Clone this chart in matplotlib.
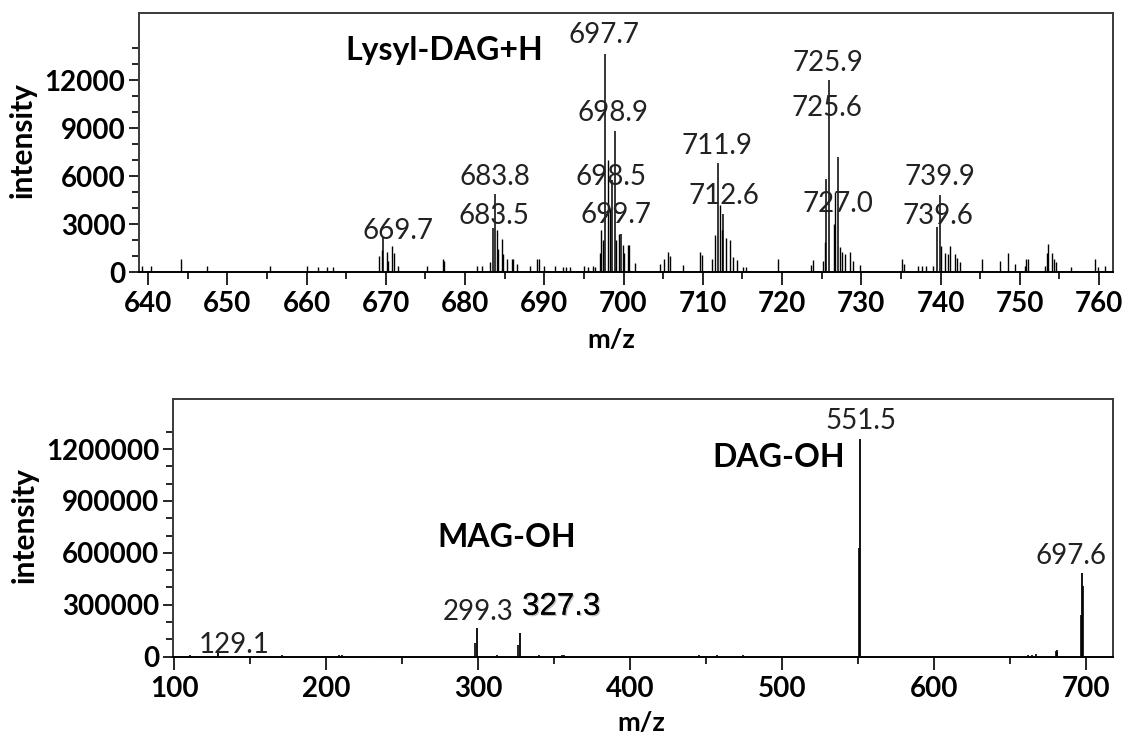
import matplotlib
matplotlib.use("Agg")
import matplotlib.pyplot as plt
import matplotlib.patheffects as pe
from matplotlib.ticker import FixedLocator

# ---------------- data ----------------
# Upper panel: full-scan region around the Lysyl-DAG [M+H]+ cluster
top_peak_mz = [669.7, 683.5, 683.8, 697.7, 698.5, 698.9, 699.7,
               711.9, 712.6, 725.6, 725.9, 727.0, 739.6, 739.9]
top_peak_int = [2200, 2750, 4850, 13650, 5750, 8850, 2400,
                6800, 3650, 5800, 12000, 7200, 2800, 4800]

top_mz = [639.2, 640.4, 644.1, 647.4, 655.4, 660.0, 661.4, 662.6, 663.3,
          669.2, 669.5, 670.1, 670.3, 670.8, 671.0, 671.5,
          675.2, 677.2, 677.4,
          681.5, 682.1, 683.2, 684.0, 684.2, 684.6, 684.8, 685.3, 685.9, 686.1,
          686.5, 688.2, 689.1, 689.3, 690.0, 691.4, 692.4, 692.7, 693.3,
          695.0, 695.5, 696.2, 696.4,
          697.0, 697.2, 697.4, 698.1, 698.3, 699.1, 699.4, 699.9, 700.1,
          700.6, 700.7, 701.4,
          704.6, 705.1, 705.6, 705.9, 707.5,
          709.6, 709.9, 711.1, 711.5, 712.2, 712.4, 712.9, 713.4, 713.8,
          714.3, 715.1, 715.5,
          719.5,
          723.7, 723.9, 725.2, 725.4, 726.5, 726.7, 727.3, 727.6, 727.9,
          728.6, 728.9, 729.8,
          735.1, 735.4, 737.1, 737.6, 738.2, 739.0, 740.1, 740.5, 740.9,
          741.2, 741.8, 742.1, 742.5,
          745.2, 747.5, 748.5, 749.4, 750.6, 750.8, 751.0, 753.2, 753.4,
          753.6, 754.0, 754.3, 754.6, 756.5, 759.5, 759.8, 760.7]
top_int = [400, 400, 830, 400, 400, 400, 300, 300, 300,
           1000, 1400, 1250, 700, 1650, 1200, 375,
           375, 790, 700,
           375, 375, 625, 2600, 1460, 2080, 1150, 830, 790, 790,
           520, 375, 790, 830, 375, 375, 300, 300, 300,
           375, 300, 375, 300,
           1200, 2600, 2000, 7000, 4000, 2000, 2400, 1700, 1200,
           1700, 1670, 540,
           520, 800, 1250, 1000, 420,
           1270, 1050, 830, 2300, 4200, 2600, 2100, 2000, 950,
           750, 330, 300,
           840,
           460, 770, 670, 1880, 3000, 5000, 1560, 1270, 1100,
           1270, 670, 460,
           840, 500, 375, 375, 375, 375, 1640, 1200, 1100,
           1600, 1100, 900, 600,
           800, 700, 1200, 500, 375, 800, 800, 375, 1200,
           1730, 1200, 800, 600, 330, 800, 300, 375]

# Lower panel: MS/MS fragments
bot_peak_mz = [129.1, 299.3, 327.3, 551.5, 697.6]
bot_peak_int = [30000, 165000, 136000, 1258000, 484000]

bot_mz = [110.6, 171.2, 208.5, 210.6, 227.0, 236.0, 243.0, 298.0, 312.5,
          326.5, 340.2, 355.3, 356.3, 445.5, 457.4, 474.2, 550.3, 662.0,
          664.5, 667.0, 680.5, 680.8, 681.2, 696.5, 698.3]
bot_int = [10000, 8000, 8000, 8000, 6000, 6000, 6000, 78000, 10000,
           70000, 8000, 10000, 10000, 8000, 8000, 12000, 630000, 10000,
           12000, 15000, 30000, 39000, 25000, 242000, 406000]

top_yticks = [0, 3000, 6000, 9000, 12000]
bot_yticks = [0, 300000, 600000, 900000, 1200000]
top_xticks = list(range(640, 761, 10))
bot_xticks = list(range(100, 701, 100))

# label anchor points (data coords) for the peak annotations
top_label_pos = [(671.6, 2560), (683.6, 3500), (683.8, 5960), (697.5, 14800),
                 (698.4, 5960), (698.7, 9940), (699.1, 3560),
                 (711.8, 7875), (712.7, 4750), (725.7, 10290), (725.8, 13100),
                 (727.1, 4250), (739.7, 3475), (739.9, 5950)]
bot_label_pos = [(139.5, 68000), (300.0, 261000), (354.8, 289000),
                 (552.0, 1365000), (689.8, 581000)]

# ---------------- figure ----------------
plt.rcParams["font.family"] = ["Lato", "DejaVu Sans"]

fig = plt.figure(figsize=(11.27, 7.37), dpi=100)
ax1 = fig.add_axes([0.1236, 0.6309, 0.8643, 0.3514])
ax2 = fig.add_axes([0.1535, 0.1090, 0.8343, 0.3497])

label_color = "#222222"
spine_color = "#3a3a3a"
tick_fs = 20
peak_fs = 20
name_fs = 23


def style_axes(ax):
    for s in ax.spines.values():
        s.set_color(spine_color)
        s.set_linewidth(1.4)
    ax.spines["bottom"].set_color("black")
    ax.tick_params(axis="both", which="both", direction="out", color="black",
                   width=1.2)
    ax.tick_params(axis="x", which="major", length=9, pad=5, labelsize=tick_fs)
    ax.tick_params(axis="x", which="minor", length=5)
    ax.tick_params(axis="y", which="major", length=7, pad=3, labelsize=tick_fs)
    ax.tick_params(axis="y", which="minor", length=5)
    for lab in ax.get_xticklabels() + ax.get_yticklabels():
        lab.set_fontweight("bold")


# ---- upper panel ----
ax1.vlines(top_mz, 0, top_int, color="black", lw=1.0)
ax1.vlines(top_peak_mz, 0, top_peak_int, color="black", lw=1.1)
ax1.set_xlim(638.9, 761.8)
ax1.set_ylim(0, 16200)
ax1.xaxis.set_major_locator(FixedLocator(top_xticks))
ax1.xaxis.set_minor_locator(FixedLocator([t + 5 for t in top_xticks[:-1]]))
ax1.yaxis.set_major_locator(FixedLocator(top_yticks))
ax1.yaxis.set_minor_locator(FixedLocator(range(0, 14001, 1000)))
ax1.set_xticklabels([str(t) for t in top_xticks])
ax1.set_yticklabels([str(t) for t in top_yticks])
style_axes(ax1)

for mz, (lx, ly) in zip(top_peak_mz, top_label_pos):
    ax1.text(lx, ly, f"{mz:.1f}", ha="center", va="center", fontsize=peak_fs,
             color=label_color)
ax1.text(677.4, 13875, "Lysyl-DAG+H", ha="center", va="center",
         fontsize=name_fs, fontweight="bold", color="black")

ax1.set_xlabel("m/z", fontsize=19.5, fontweight="bold", va="center")
ax1.set_ylabel("intensity", fontsize=21.5, fontweight="bold", va="center")
ax1.xaxis.set_label_coords(0.4843, -0.2625)
ax1.yaxis.set_label_coords(-0.1194, 0.5097)

# ---- lower panel ----
ax2.vlines(bot_mz, 0, bot_int, color="black", lw=1.2)
ax2.vlines(bot_peak_mz, 0, bot_peak_int, color="black", lw=1.3)
ax2.set_xlim(99.3, 717.9)
ax2.set_ylim(0, 1490000)
ax2.xaxis.set_major_locator(FixedLocator(bot_xticks))
ax2.xaxis.set_minor_locator(FixedLocator([t + 50 for t in bot_xticks[:-1]]))
ax2.yaxis.set_major_locator(FixedLocator(bot_yticks))
ax2.yaxis.set_minor_locator(FixedLocator(range(0, 1300001, 100000)))
ax2.set_xticklabels([str(t) for t in bot_xticks])
ax2.set_yticklabels([str(t) for t in bot_yticks])
style_axes(ax2)

for mz, (lx, ly) in zip(bot_peak_mz, bot_label_pos):
    if mz == 327.3:
        ax2.text(lx, ly, f"{mz:.1f}", ha="center", va="center", fontsize=22.5,
                 family=["Liberation Sans", "DejaVu Sans"], color="black",
                 path_effects=[pe.withSimplePatchShadow(offset=(1, -1),
                                                        shadow_rgbFace="0.6",
                                                        alpha=0.6),
                               pe.Normal()])
    else:
        ax2.text(lx, ly, f"{mz:.1f}", ha="center", va="center", fontsize=peak_fs,
                 color=label_color)
ax2.text(318.8, 688000, "MAG-OH", ha="center", va="center", fontsize=name_fs,
         fontweight="bold", color="black")
ax2.text(498.0, 1152000, "DAG-OH", ha="center", va="center", fontsize=name_fs,
         fontweight="bold", color="black")

ax2.set_xlabel("m/z", fontsize=19.5, fontweight="bold", va="center")
ax2.set_ylabel("intensity", fontsize=21.5, fontweight="bold", va="center")
ax2.xaxis.set_label_coords(0.4977, -0.2573)
ax2.yaxis.set_label_coords(-0.1574, 0.511)

fig.savefig("out.png", dpi=100)
